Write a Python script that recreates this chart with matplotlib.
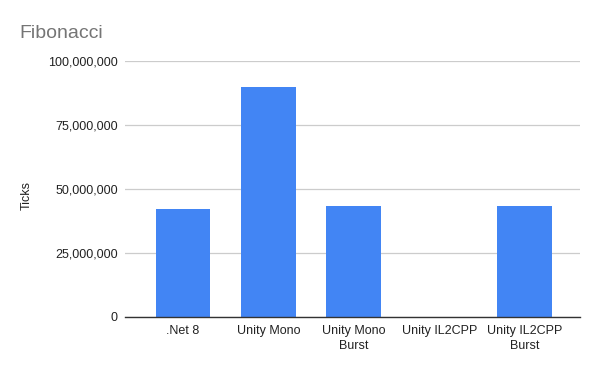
import matplotlib.pyplot as plt
from matplotlib.ticker import FuncFormatter

plt.rcParams['font.family'] = ['Liberation Sans', 'DejaVu Sans']

categories = [".Net 8", "Unity Mono", "Unity Mono\nBurst", "Unity IL2CPP", "Unity IL2CPP\nBurst"]
ticks = [42000000, 90000000, 43500000, 0, 43500000]

fig = plt.figure(figsize=(6, 3.71), dpi=100)
ax = fig.add_axes([0.208, 0.1456, 0.759, 0.69])

x = list(range(len(categories)))
ax.bar(x, ticks, width=0.64, color="#4285f4", zorder=3)

ax.set_xlim(-0.68, 4.65)
ax.set_ylim(0, 100000000)
ax.set_yticks([0, 25000000, 50000000, 75000000, 100000000])
ax.yaxis.set_major_formatter(FuncFormatter(lambda v, p: "{:,.0f}".format(v)))
ax.set_xticks(x)
ax.set_xticklabels(categories, fontsize=9, color="#222222", linespacing=1.3)
ax.tick_params(axis='y', labelsize=9, colors="#222222", length=0, pad=5)
ax.tick_params(axis='x', length=0, pad=6)

ax.grid(axis='y', color="#cccccc", linewidth=0.9, zorder=0)
for side in ["top", "right", "left"]:
    ax.spines[side].set_visible(False)
ax.spines["bottom"].set_color("#333333")
ax.spines["bottom"].set_linewidth(1.0)
ax.spines["bottom"].set_zorder(4)

# y axis title placed like the original
fig.text(0.045, 0.474, "Ticks", fontsize=9, color="#222222", rotation=90, va="center", ha="center")

fig.text(0.033, 0.91, "Fibonacci", fontsize=14, color="#757575", va="center", ha="left")

fig.savefig("out.png", dpi=100)
